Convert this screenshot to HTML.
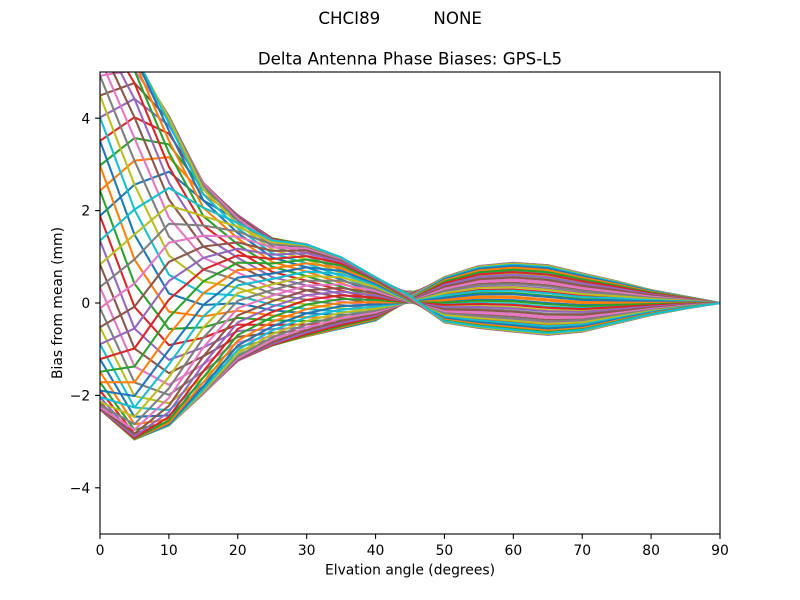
<!DOCTYPE html>
<html>
<head>
<meta charset="utf-8">
<style>
html,body{margin:0;padding:0;background:#fff;}
svg{display:block;}
text{font-family:"DejaVu Sans","Liberation Sans",sans-serif;fill:#000;}
</style>
</head>
<body>
<svg id="chart" width="800" height="600" viewBox="0 0 800 600" xmlns="http://www.w3.org/2000/svg">
<rect x="0" y="0" width="800" height="600" fill="#fff"/>
<defs>
<clipPath id="ax"><rect x="100" y="72" width="620" height="462"/></clipPath>
</defs>
<g id="lines" clip-path="url(#ax)" fill="none" stroke-width="2.08" stroke-linejoin="round" stroke-linecap="square"></g>
<rect x="100" y="72" width="620" height="462" fill="none" stroke="#000" stroke-width="1.11"/>
<g stroke="#000" stroke-width="1.11">
<line x1="100" y1="534" x2="100" y2="538.9"/>
<line x1="168.89" y1="534" x2="168.89" y2="538.9"/>
<line x1="237.78" y1="534" x2="237.78" y2="538.9"/>
<line x1="306.67" y1="534" x2="306.67" y2="538.9"/>
<line x1="375.56" y1="534" x2="375.56" y2="538.9"/>
<line x1="444.44" y1="534" x2="444.44" y2="538.9"/>
<line x1="513.33" y1="534" x2="513.33" y2="538.9"/>
<line x1="582.22" y1="534" x2="582.22" y2="538.9"/>
<line x1="651.11" y1="534" x2="651.11" y2="538.9"/>
<line x1="720" y1="534" x2="720" y2="538.9"/>
<line x1="95.1" y1="118.2" x2="100" y2="118.2"/>
<line x1="95.1" y1="210.6" x2="100" y2="210.6"/>
<line x1="95.1" y1="303" x2="100" y2="303"/>
<line x1="95.1" y1="395.4" x2="100" y2="395.4"/>
<line x1="95.1" y1="487.8" x2="100" y2="487.8"/>
</g>
<g font-size="13.9" text-anchor="middle">
<text x="100" y="555">0</text>
<text x="168.89" y="555">10</text>
<text x="237.78" y="555">20</text>
<text x="306.67" y="555">30</text>
<text x="375.56" y="555">40</text>
<text x="444.44" y="555">50</text>
<text x="513.33" y="555">60</text>
<text x="582.22" y="555">70</text>
<text x="651.11" y="555">80</text>
<text x="720" y="555">90</text>
</g>
<g font-size="13.9" text-anchor="end">
<text x="90.2" y="123.3">4</text>
<text x="90.2" y="215.7">2</text>
<text x="90.2" y="308.1">0</text>
<text x="90.2" y="400.5">−2</text>
<text x="90.2" y="492.9">−4</text>
</g>
<text x="410" y="574.3" font-size="13.9" text-anchor="middle">Elvation angle (degrees)</text>
<text transform="translate(62,303) rotate(-90)" font-size="13.9" text-anchor="middle">Bias from mean (mm)</text>
<text x="410" y="64.3" font-size="16.67" text-anchor="middle">Delta Antenna Phase Biases: GPS-L5</text>
<text x="318.4" y="24" font-size="16.67">CHCI89</text>
<text x="433.4" y="24" font-size="16.67">NONE</text>
</svg>
<script>
(function(){
  var E=[0,5,10,15,20,25,30,35,40,45,50,55,60,65,70,75,80,85,90];
  var TOP=[6.1,5.4,4.05,2.6,1.9,1.4,1.27,0.99,0.56,0.25,0.56,0.8,0.87,0.82,0.64,0.47,0.28,0.14,0];
  var BOT=[-2.3,-2.95,-2.65,-1.96,-1.25,-0.92,-0.72,-0.55,-0.38,0.01,-0.42,-0.54,-0.62,-0.69,-0.62,-0.44,-0.26,-0.12,0];
  var PW=[1.8,1.8,1.6,1.25,1.05,1,1,1,1,1,1,1,1,1,1,1,1,1,1];
  var P=[69,54,40,30,20,10,0,-8,-15,70,155,155,155,155,155,155,155,155,155];
  var C=['#1f77b4','#ff7f0e','#2ca02c','#d62728','#9467bd','#8c564b','#e377c2','#7f7f7f','#bcbd22','#17becf'];
  var N=60, g=document.getElementById('lines'), ns='http://www.w3.org/2000/svg';
  for(var k=0;k<N;k++){
    var th=k*360/N, d='';
    for(var i=0;i<E.length;i++){
      var a=(th-P[i])*Math.PI/180;
      var h=Math.pow((1+Math.cos(a))/2,PW[i]);
      var v=BOT[i]+(TOP[i]-BOT[i])*h;
      var x=100+E[i]*620/90, y=303-46.2*v;
      d+=(i?'L':'M')+x.toFixed(2)+' '+y.toFixed(2);
    }
    var p=document.createElementNS(ns,'path');
    p.setAttribute('d',d);
    p.setAttribute('stroke',C[k%10]);
    g.appendChild(p);
  }
})();
</script>
</body>
</html>
